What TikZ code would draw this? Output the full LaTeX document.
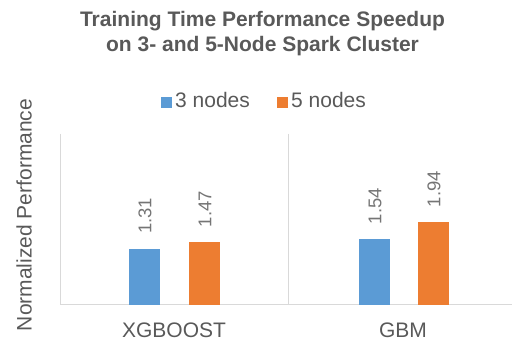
\documentclass[tikz,border=0pt]{standalone}
\usepackage{fontspec}
\setmainfont{Liberation Sans}
\definecolor{barblue}{HTML}{5B9BD5}
\definecolor{barorange}{HTML}{ED7D31}
\definecolor{txtgray}{HTML}{595959}
\definecolor{lblgray}{HTML}{757575}
\definecolor{gridgray}{HTML}{D9D9D9}
\begin{document}
\begin{tikzpicture}[x=1pt,y=1pt,
  gridline/.style={draw=gridgray,line width=1pt},
  bluebar/.style={fill=barblue,draw=none},
  orangebar/.style={fill=barorange,draw=none},
  vallabel/.style={rotate=90,anchor=west,inner sep=0pt,text=lblgray,font=\fontsize{18.5}{20}\selectfont},
  catlabel/.style={text=txtgray,inner sep=0pt,font=\fontsize{21}{24}\selectfont},
  legtext/.style={text=txtgray,inner sep=0pt,anchor=base west,font=\fontsize{21}{24}\selectfont},
  titletext/.style={text=txtgray,inner sep=0pt,anchor=base,font=\fontsize{21}{24}\selectfont\bfseries}]
\useasboundingbox (0,0) rectangle (512,342);
% axes and grid
\coordinate (bl) at (60,37);
\coordinate (br) at (520,37);
\coordinate (tl) at (60,208);
\coordinate (mb) at (288,37);
\coordinate (mt) at (288,208);
\draw[gridline] (tl) -- (bl);
\draw[gridline] (mt) -- (mb);
\draw[gridline] (bl) -- (br);
% bars (42.65 pt per unit)
\path[bluebar] (129,37) rectangle (160,{37+1.31*42.65}) coordinate (b1);
\path[orangebar] (189,37) rectangle (220,{37+1.47*42.65}) coordinate (o1);
\path[bluebar] (359,37) rectangle (390,{37+1.54*42.65}) coordinate (b2);
\path[orangebar] (418,37) rectangle (449,{37+1.94*42.65}) coordinate (o2);
% value labels
\node[vallabel] (v1) at (145,{37+1.31*42.65+15}) {1.31};
\node[vallabel] (v2) at (205,{37+1.47*42.65+15}) {1.47};
\node[vallabel] (v3) at (375,{37+1.54*42.65+15}) {1.54};
\node[vallabel] (v4) at (434,{37+1.94*42.65+15}) {1.94};
% category labels
\node[catlabel] (c1) at (174,12) {XGBOOST};
\node[catlabel] (c2) at (403,12) {GBM};
% y axis label
\node[catlabel,rotate=90] (yl) at (24,127) {Normalized Performance};
% legend
\fill[barblue] (161,234) rectangle (172,245);
\node[legtext] (l1) at (175,234) {3 nodes};
\fill[barorange] (277,234) rectangle (288,245);
\node[legtext] (l2) at (291,234) {5 nodes};
% title
\node[titletext] (t1) at (262.5,315) {Training Time Performance Speedup};
\node[titletext] (t2) at (262.5,290) {on 3- and 5-Node Spark Cluster};
\end{tikzpicture}
\end{document}
